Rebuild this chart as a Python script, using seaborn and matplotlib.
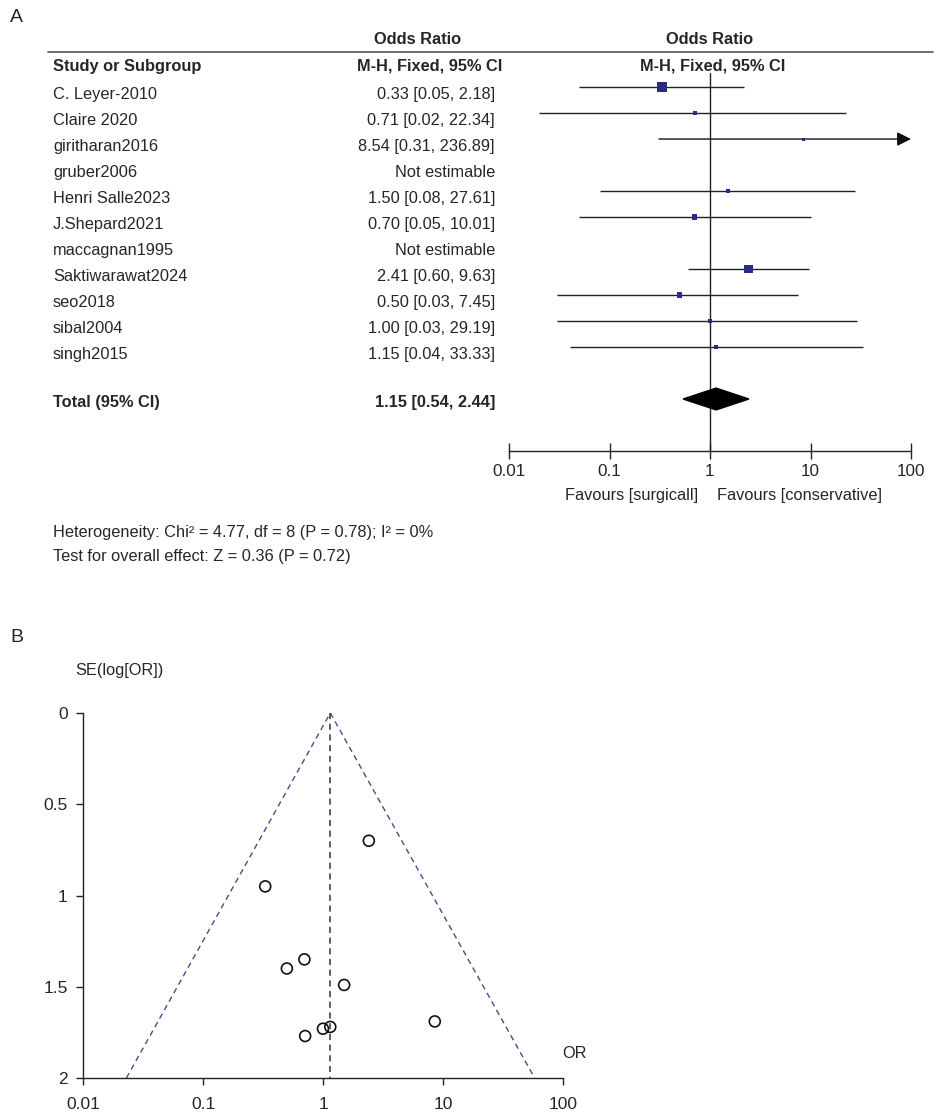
import numpy as np
import pandas as pd
import matplotlib
matplotlib.use('Agg')
import matplotlib.pyplot as plt
import matplotlib.transforms as mtransforms
from matplotlib.lines import Line2D
import seaborn as sns

# forest plot data (panel A)
studies = ['C. Leyer-2010', 'Claire 2020', 'giritharan2016', 'gruber2006', 'Henri Salle2023',
           'J.Shepard2021', 'maccagnan1995', 'Saktiwarawat2024', 'seo2018', 'sibal2004', 'singh2015']
odds_ratio = [0.33, 0.71, 8.54, np.nan, 1.50, 0.70, np.nan, 2.41, 0.50, 1.00, 1.15]
ci_low = [0.05, 0.02, 0.31, np.nan, 0.08, 0.05, np.nan, 0.60, 0.03, 0.03, 0.04]
ci_high = [2.18, 22.34, 236.89, np.nan, 27.61, 10.01, np.nan, 9.63, 7.45, 29.19, 33.33]
weights = [35, 4, 3, np.nan, 6, 9, np.nan, 25, 10, 4, 4]
total_or = 1.15
total_low = 0.54
total_high = 2.44
or_ticks = [0.01, 0.1, 1, 10, 100]
or_tick_labels = ['0.01', '0.1', '1', '10', '100']

# funnel plot data (panel B)
funnel_or = [0.33, 0.71, 8.54, 1.50, 0.70, 2.41, 0.50, 1.00, 1.15]
funnel_se = [0.95, 1.77, 1.69, 1.49, 1.35, 0.70, 1.40, 1.73, 1.72]
funnel_limits = [0.023, 58]
se_ticks = [0, 0.5, 1, 1.5, 2]
se_tick_labels = ['0', '0.5', '1', '1.5', '2']

W, H = 942, 1118
TXT = '#262626'
NAVY = '#2b2b85'
FS = 11.8

sns.set_theme(style='white')
plt.rcParams['font.family'] = ['Liberation Sans', 'DejaVu Sans']
plt.rcParams['text.color'] = TXT


def fx(x):
    return x / W


def fy(y):
    return 1 - y / H


fig = plt.figure(figsize=(W / 100, H / 100), dpi=100)

# ---------------- panel A: forest plot ----------------
ax1 = fig.add_axes([fx(509), fy(451), fx(911 - 509), (451 - 73) / H])
ax1.set_xscale('log')
ax1.set_xlim(0.01, 100)
ax1.set_ylim(14, -0.54)
ax1.patch.set_alpha(0)

df = pd.DataFrame({'study': studies, 'or': odds_ratio, 'low': ci_low,
                   'high': ci_high, 'w': weights})
df['row'] = np.arange(len(df))
est = df.dropna().copy()
# box area proportional to weight (side in px ~ 1.7*sqrt(w))
est['area'] = (1.7 * np.sqrt(est['w']) * 0.72) ** 2

ax1.axvline(1, color='#222222', lw=1, zorder=1)
inside = est[est['high'] <= 100]
ax1.hlines(inside['row'], inside['low'], inside['high'], color='#222222', lw=1, zorder=2)
# CI running past the axis end gets an arrow
for _, r in est[est['high'] > 100].iterrows():
    ax1.annotate('', xy=(100, r['row']), xytext=(r['low'], r['row']),
                 arrowprops=dict(arrowstyle='-|>,head_length=0.6,head_width=0.3',
                                 color='#111111', lw=1,
                                 shrinkA=0, shrinkB=0, mutation_scale=14),
                 annotation_clip=False, zorder=2)
sns.scatterplot(data=est, x='or', y='row', size='area',
                sizes=(est['area'].min(), est['area'].max()),
                marker='s', color=NAVY, linewidth=0, legend=False, ax=ax1, zorder=4)
total_row = len(df) + 1
ax1.fill([total_low, total_or, total_high, total_or],
         [total_row, total_row - 0.42, total_row, total_row + 0.42], color='black', zorder=4)

for side in ['top', 'left', 'right']:
    ax1.spines[side].set_visible(False)
ax1.spines['bottom'].set_color('#222222')
ax1.spines['bottom'].set_linewidth(1)
ax1.set_xticks(or_ticks)
ax1.set_xticklabels(or_tick_labels)
ax1.xaxis.set_minor_locator(matplotlib.ticker.NullLocator())
ax1.set_yticks([])
ax1.tick_params(axis='x', direction='inout', length=11, width=1, color='#222222',
                labelsize=12.3, labelcolor=TXT, pad=4, bottom=True)
ax1.set_xlabel('')
ax1.set_ylabel('')

tr = mtransforms.blended_transform_factory(fig.transFigure, ax1.transData)
for i, r in df.iterrows():
    ax1.text(fx(53), r['row'] + 0.27, r['study'], transform=tr, ha='left', va='center',
             fontsize=FS, clip_on=False)
    if np.isnan(r['or']):
        label = 'Not estimable'
    else:
        label = f"{r['or']:.2f} [{r['low']:.2f}, {r['high']:.2f}]"
    ax1.text(fx(495), r['row'] + 0.27, label, transform=tr, ha='right', va='center',
             fontsize=FS, clip_on=False)
ax1.text(fx(53), total_row + 0.15, 'Total (95% CI)', transform=tr, ha='left', va='center',
         fontsize=FS, weight='bold', clip_on=False)
ax1.text(fx(495), total_row + 0.15, f'{total_or:.2f} [{total_low:.2f}, {total_high:.2f}]',
         transform=tr, ha='right', va='center', fontsize=FS, weight='bold', clip_on=False)

# header
fig.text(fx(418), fy(40), 'Odds Ratio', ha='center', va='center', fontsize=FS, weight='bold')
fig.text(fx(710), fy(40), 'Odds Ratio', ha='center', va='center', fontsize=FS, weight='bold')
fig.add_artist(Line2D([fx(48), fx(933)], [fy(52), fy(52)], color='#555555', lw=1.2))
fig.text(fx(53), fy(66), 'Study or Subgroup', ha='left', va='center', fontsize=FS, weight='bold')
fig.text(fx(430), fy(66), 'M-H, Fixed, 95% CI', ha='center', va='center', fontsize=FS, weight='bold')
fig.text(fx(713), fy(66), 'M-H, Fixed, 95% CI', ha='center', va='center', fontsize=FS, weight='bold')

fig.text(fx(698), fy(495), 'Favours [surgicall]', ha='right', va='center', fontsize=FS)
fig.text(fx(717), fy(495), 'Favours [conservative]', ha='left', va='center', fontsize=FS)
fig.text(fx(53), fy(532), 'Heterogeneity: Chi² = 4.77, df = 8 (P = 0.78); I² = 0%',
         ha='left', va='center', fontsize=FS)
fig.text(fx(53), fy(557), 'Test for overall effect: Z = 0.36 (P = 0.72)',
         ha='left', va='center', fontsize=FS)

fig.text(fx(10), fy(17), 'A', ha='left', va='center', fontsize=14)
fig.text(fx(10), fy(637), 'B', ha='left', va='center', fontsize=14)

# ---------------- panel B: funnel plot ----------------
ax2 = fig.add_axes([fx(83), fy(1078), fx(563 - 83), (1078 - 713) / H])
ax2.set_xscale('log')
ax2.set_xlim(0.01, 100)
ax2.set_ylim(2, 0)
ax2.patch.set_alpha(0)

ax2.plot([funnel_limits[0], total_or, funnel_limits[1]], [2, 0, 2], ls=(0, (4, 3)),
         color='#4a4a8a', lw=1)
ax2.plot([total_or, total_or], [0, 2], ls=(0, (4, 3)), color='#333333', lw=1.1)
fdf = pd.DataFrame({'or': funnel_or, 'se': funnel_se})
sns.scatterplot(data=fdf, x='or', y='se', marker='o', s=62, facecolor='none',
                edgecolor='#111111', linewidth=1.2, ax=ax2, zorder=3)

for side in ['top', 'right']:
    ax2.spines[side].set_visible(False)
for side in ['left', 'bottom']:
    ax2.spines[side].set_color('#222222')
    ax2.spines[side].set_linewidth(1)
ax2.set_xticks(or_ticks)
ax2.set_xticklabels(or_tick_labels)
ax2.xaxis.set_minor_locator(matplotlib.ticker.NullLocator())
ax2.set_yticks(se_ticks)
ax2.set_yticklabels(se_tick_labels)
ax2.tick_params(axis='both', direction='out', length=5, width=1, color='#222222',
                labelsize=12.5, labelcolor=TXT, left=True, bottom=True)
ax2.tick_params(axis='x', pad=9)
ax2.tick_params(axis='y', pad=6)
ax2.set_xlabel('')
ax2.set_ylabel('')
fig.text(fx(75), fy(670), 'SE(log[OR])', ha='left', va='center', fontsize=FS)
fig.text(fx(562), fy(1053), 'OR', ha='left', va='center', fontsize=FS)

fig.savefig('out.png', dpi=100)
